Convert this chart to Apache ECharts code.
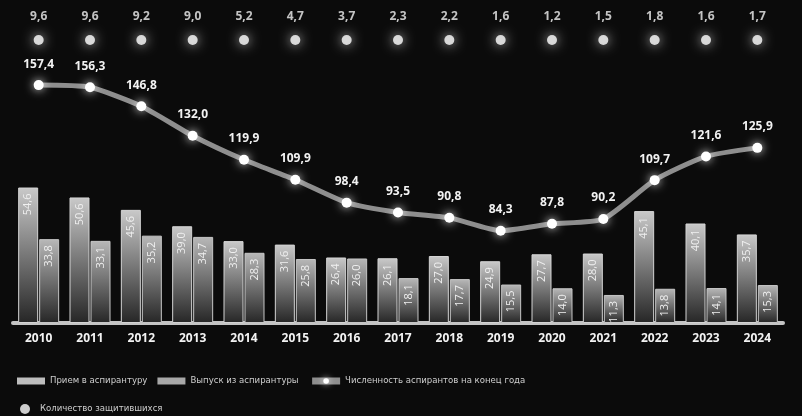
<!DOCTYPE html>
<html>
<head>
<meta charset="utf-8">
<script src="https://cdn.jsdelivr.net/npm/echarts@6/dist/echarts.min.js"></script>
<style>
  html, body { margin: 0; padding: 0; background: #0b0b0b; }
  #chart { width: 802px; height: 416px; }
</style>
</head>
<body>
<div id="chart"></div>
<script>
var years = ['2010', '2011', '2012', '2013', '2014', '2015', '2016', '2017', '2018', '2019', '2020', '2021', '2022', '2023', '2024'];
var admitted = [54.6, 50.6, 45.6, 39.0, 33.0, 31.6, 26.4, 26.1, 27.0, 24.9, 27.7, 28.0, 45.1, 40.1, 35.7];
var graduated = [33.8, 33.1, 35.2, 34.7, 28.3, 25.8, 26.0, 18.1, 17.7, 15.5, 14.0, 11.3, 13.8, 14.1, 15.3];
var students = [157.4, 156.3, 146.8, 132.0, 119.9, 109.9, 98.4, 93.5, 90.8, 84.3, 87.8, 90.2, 109.7, 121.6, 125.9];
var defended = [9.6, 9.6, 9.2, 9.0, 5.2, 4.7, 3.7, 2.3, 2.2, 1.6, 1.2, 1.5, 1.8, 1.6, 1.7];

var names = ['Прием в аспирантуру', 'Выпуск из аспирантуры', 'Численность аспирантов на конец года', 'Количество защитившихся'];

function fmt(v) {
  return v.toFixed(1).replace('.', ',');
}

var font = 'Open Sans';
var legendFont = '"DejaVu Sans Condensed", "Open Sans"';

function barGradient(top) {
  return new echarts.graphic.LinearGradient(0, 0, 0, 1, [
    { offset: 0, color: top },
    { offset: 1, color: '#262626' }
  ]);
}

var barLabel = {
  show: true,
  position: 'insideTop',
  rotate: 90,
  align: 'right',
  verticalAlign: 'middle',
  distance: 6,
  color: '#f0f0f0',
  fontFamily: font,
  fontSize: 11,
  formatter: function (p) { return fmt(p.value); }
};

var chart = echarts.init(document.getElementById('chart'));

var option = {
  backgroundColor: '#0b0b0b',
  animation: false,
  grid: [
    { left: 13, right: 19, top: 60, bottom: 93 },
    { left: 13, right: 19, top: 36, height: 8 }
  ],
  xAxis: [
    {
      type: 'category',
      data: years,
      gridIndex: 0,
      axisLine: { lineStyle: { color: '#c4c4c4', width: 4 } },
      axisTick: { show: false },
      axisLabel: { color: '#f2f2f2', fontFamily: font, fontWeight: 'bold', fontSize: 12, margin: 10 }
    },
    { type: 'category', data: years, gridIndex: 1, show: false }
  ],
  yAxis: [
    { type: 'value', gridIndex: 0, min: 0, max: 106, show: false },
    { type: 'value', gridIndex: 0, min: 38, max: 170, show: false },
    { type: 'category', gridIndex: 1, data: ['d'], show: false }
  ],
  legend: [
    {
      data: [
        { name: names[0], icon: 'rect', itemStyle: { color: '#bdbdbd', borderWidth: 0 } },
        { name: names[1], icon: 'rect', itemStyle: { color: '#a8a8a8', borderWidth: 0 } },
        { name: names[2], lineStyle: { width: 7, color: '#8e8e8e' }, itemStyle: { shadowBlur: 6, shadowColor: '#ffffff' } }
      ],
      left: 12,
      top: 371,
      itemWidth: 28,
      itemHeight: 7,
      itemGap: 10,
      textStyle: { color: '#cfcfcf', fontFamily: legendFont, fontSize: 9.5 }
    },
    {
      data: [names[3]],
      left: 15,
      top: 399,
      itemWidth: 20,
      itemHeight: 10,
      textStyle: { color: '#cfcfcf', fontFamily: legendFont, fontSize: 9.5 }
    }
  ],
  series: [
    {
      name: names[0],
      type: 'bar',
      data: admitted,
      barWidth: 20,
      barGap: '5%',
      itemStyle: { color: barGradient('#c9c9c9'), borderColor: '#d4d4d4', borderWidth: 1 },
      label: barLabel
    },
    {
      name: names[1],
      type: 'bar',
      data: graduated,
      barWidth: 20,
      itemStyle: { color: barGradient('#b8b8b8'), borderColor: '#c6c6c6', borderWidth: 1 },
      label: barLabel
    },
    {
      name: names[2],
      type: 'line',
      yAxisIndex: 1,
      data: students,
      smooth: 0.2,
      symbol: 'circle',
      symbolSize: 10,
      lineStyle: { color: '#8e8e8e', width: 5 },
      itemStyle: { color: '#ffffff', shadowBlur: 10, shadowColor: 'rgba(255,255,255,0.9)' },
      label: {
        show: true,
        position: 'top',
        distance: 10,
        color: '#f2f2f2',
        fontFamily: font,
        fontWeight: 'bold',
        fontSize: 12,
        formatter: function (p) { return fmt(p.value); }
      },
      z: 5
    },
    {
      name: names[3],
      type: 'scatter',
      xAxisIndex: 1,
      yAxisIndex: 2,
      data: defended.map(function (v, i) { return [years[i], 'd', v]; }),
      symbol: 'circle',
      symbolSize: 10,
      itemStyle: { color: '#ffffff', shadowBlur: 12, shadowColor: 'rgba(255,255,255,0.95)' },
      label: {
        show: true,
        position: 'top',
        distance: 12,
        color: '#f2f2f2',
        fontFamily: font,
        fontWeight: 'bold',
        fontSize: 12,
        formatter: function (p) { return fmt(p.value[2]); }
      }
    }
  ]
};

chart.setOption(option);
</script>
</body>
</html>
